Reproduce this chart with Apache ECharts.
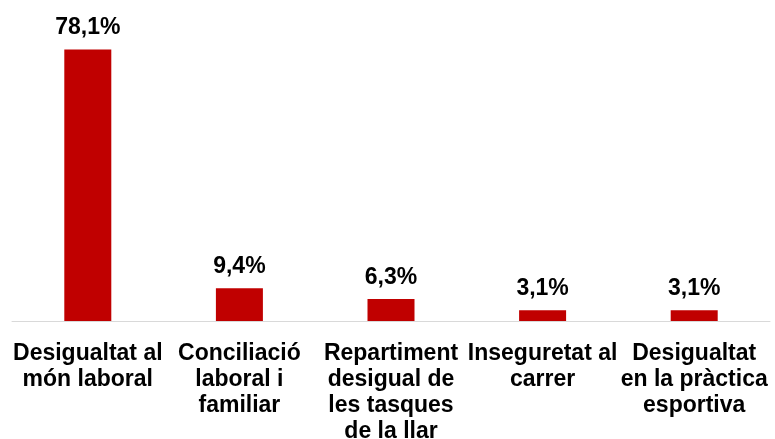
<!DOCTYPE html>
<html>
<head>
<meta charset="utf-8">
<script src="https://cdn.jsdelivr.net/npm/echarts@6/dist/echarts.min.js"></script>
<style>
  html,body{margin:0;padding:0;background:#fff;}
  #chart{width:775px;height:439px;}
</style>
</head>
<body>
<div id="chart"></div>
<script>
// categories and values
const categories = [
  'Desigualtat al\nmón laboral',
  'Conciliació\nlaboral i\nfamiliar',
  'Repartiment\ndesigual de\nles tasques\nde la llar',
  'Inseguretat al\ncarrer',
  'Desigualtat\nen la pràctica\nesportiva'
]
const values = [78.1, 9.4, 6.3, 3.1, 3.1]

const chart = echarts.init(document.getElementById('chart'))
chart.setOption({
  animation: false,
  // labels run off the bottom like in the original, so don't let the grid shrink
  grid: {top: 43, bottom: 118, left: 12, right: 5, outerBoundsMode: 'none'},
  xAxis: {
    type: 'category',
    data: categories,
    axisLine: {lineStyle: {color: '#d9d9d9', width: 1}},
    axisTick: {show: false},
    axisLabel: {
      interval: 0,
      margin: 20,
      color: '#000',
      fontFamily: 'Liberation Sans, Arial, sans-serif',
      fontWeight: 'bold',
      fontSize: 23,
      lineHeight: 26
    }
  },
  yAxis: {
    type: 'value',
    min: 0,
    max: 80,
    show: false,
    splitLine: {show: false}
  },
  series: [{
    type: 'bar',
    data: values,
    barWidth: 47,
    itemStyle: {color: '#c00000'},
    label: {
      show: true,
      position: 'top',
      distance: 10,
      color: '#000',
      fontFamily: 'Liberation Sans, Arial, sans-serif',
      fontWeight: 'bold',
      fontSize: 23,
      formatter: p => p.value.toFixed(1).replace('.', ',') + '%'
    }
  }]
})
</script>
</body>
</html>
